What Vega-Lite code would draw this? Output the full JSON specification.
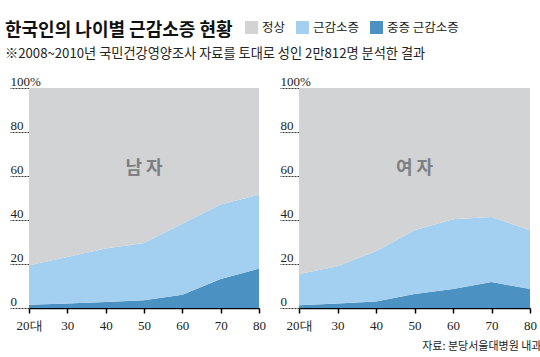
{
  "$schema": "https://vega.github.io/schema/vega-lite/v6.json",
  "padding": {"left": 5, "top": 21, "right": 4, "bottom": 4},
  "bounds": "flush",
  "spacing": 40,
  "background": "white",
  "datasets": {
    "rows": [
      {"g": "남자", "age": 20, "c": "중증 근감소증", "v": 1.5},
      {"g": "남자", "age": 20, "c": "근감소증", "v": 17.9},
      {"g": "남자", "age": 20, "c": "정상", "v": 80.6},
      {"g": "남자", "age": 30, "c": "중증 근감소증", "v": 2.0},
      {"g": "남자", "age": 30, "c": "근감소증", "v": 21.2},
      {"g": "남자", "age": 30, "c": "정상", "v": 76.8},
      {"g": "남자", "age": 40, "c": "중증 근감소증", "v": 2.7},
      {"g": "남자", "age": 40, "c": "근감소증", "v": 24.3},
      {"g": "남자", "age": 40, "c": "정상", "v": 73.0},
      {"g": "남자", "age": 50, "c": "중증 근감소증", "v": 3.5},
      {"g": "남자", "age": 50, "c": "근감소증", "v": 26.0},
      {"g": "남자", "age": 50, "c": "정상", "v": 70.5},
      {"g": "남자", "age": 60, "c": "중증 근감소증", "v": 6.0},
      {"g": "남자", "age": 60, "c": "근감소증", "v": 32.3},
      {"g": "남자", "age": 60, "c": "정상", "v": 61.7},
      {"g": "남자", "age": 70, "c": "중증 근감소증", "v": 13.2},
      {"g": "남자", "age": 70, "c": "근감소증", "v": 33.8},
      {"g": "남자", "age": 70, "c": "정상", "v": 53.0},
      {"g": "남자", "age": 80, "c": "중증 근감소증", "v": 17.9},
      {"g": "남자", "age": 80, "c": "근감소증", "v": 33.6},
      {"g": "남자", "age": 80, "c": "정상", "v": 48.5},
      {"g": "여자", "age": 20, "c": "중증 근감소증", "v": 1.2},
      {"g": "여자", "age": 20, "c": "근감소증", "v": 14.3},
      {"g": "여자", "age": 20, "c": "정상", "v": 84.5},
      {"g": "여자", "age": 30, "c": "중증 근감소증", "v": 2.0},
      {"g": "여자", "age": 30, "c": "근감소증", "v": 17.0},
      {"g": "여자", "age": 30, "c": "정상", "v": 81.0},
      {"g": "여자", "age": 40, "c": "중증 근감소증", "v": 2.9},
      {"g": "여자", "age": 40, "c": "근감소증", "v": 22.9},
      {"g": "여자", "age": 40, "c": "정상", "v": 74.2},
      {"g": "여자", "age": 50, "c": "중증 근감소증", "v": 6.4},
      {"g": "여자", "age": 50, "c": "근감소증", "v": 28.9},
      {"g": "여자", "age": 50, "c": "정상", "v": 64.7},
      {"g": "여자", "age": 60, "c": "중증 근감소증", "v": 8.6},
      {"g": "여자", "age": 60, "c": "근감소증", "v": 31.7},
      {"g": "여자", "age": 60, "c": "정상", "v": 59.7},
      {"g": "여자", "age": 70, "c": "중증 근감소증", "v": 11.8},
      {"g": "여자", "age": 70, "c": "근감소증", "v": 29.6},
      {"g": "여자", "age": 70, "c": "정상", "v": 58.6},
      {"g": "여자", "age": 80, "c": "중증 근감소증", "v": 8.6},
      {"g": "여자", "age": 80, "c": "근감소증", "v": 26.7},
      {"g": "여자", "age": 80, "c": "정상", "v": 64.7}
    ],
    "labels": [
      {"g": "남자", "label": "남 자", "x": 50, "y": 63},
      {"g": "여자", "label": "여 자", "x": 50, "y": 63}
    ]
  },
  "resolve": {"scale": {"color": "shared"}, "legend": {"color": "shared"}},
  "hconcat": [
    {
      "width": 230,
      "height": 220,
      "title": {
        "text": "한국인의 나이별 근감소증 현황",
        "subtitle": "※2008~2010년 국민건강영양조사 자료를 토대로 성인 2만812명 분석한 결과",
        "anchor": "start",
        "frame": "group",
        "orient": "top",
        "dx": -24,
        "offset": 15,
        "font": "Noto Sans CJK KR",
        "fontSize": 18,
        "fontWeight": "bold",
        "color": "#111111",
        "subtitleFont": "Noto Sans CJK KR",
        "subtitleFontSize": 13.2,
        "subtitleColor": "#222222",
        "subtitlePadding": 8
      },
      "encoding": {
        "x": {"type": "quantitative", "scale": {"domain": [20, 80], "nice": false},
          "axis": {"title": null, "values": [20, 30, 40, 50, 60, 70, 80], "labelExpr": "datum.value == 20 ? '20대' : datum.label",
            "grid": false, "labelFlush": false, "labelOverlap": false, "domainColor": "#000000", "domainWidth": 1.5,
            "tickColor": "#000000", "tickSize": 5, "tickWidth": 1.5, "labelPadding": 6,
            "labelFont": "Liberation Sans Narrow", "labelFontSize": 13, "labelColor": "#222222"}},
        "y": {"type": "quantitative", "scale": {"domain": [0, 100], "nice": false},
          "axis": {"title": null, "values": [0, 20, 40, 60, 80, 100], "labelExpr": "datum.value == 100 ? '100%' : datum.label",
            "grid": false, "domain": false, "tickSize": 19, "tickDash": [2, 1], "tickColor": "#333333", "tickWidth": 1,
            "labelAlign": "left", "labelBaseline": "bottom", "labelPadding": 0, "labelDy": -1, "labelOverlap": false,
            "labelFont": "Liberation Sans Narrow", "labelFontSize": 13, "labelColor": "#222222"}}
      },
      "layer": [
        {
          "data": {"name": "rows"},
          "transform": [
            {"filter": "datum.g == '남자'"},
            {"calculate": "indexof(['중증 근감소증','근감소증','정상'], datum.c)", "as": "ord"}
          ],
          "mark": {"type": "area", "opacity": 1, "interpolate": "linear"},
          "encoding": {
            "x": {"field": "age", "type": "quantitative"},
            "y": {"field": "v", "type": "quantitative", "stack": "zero"},
            "color": {"field": "c", "type": "nominal",
              "scale": {"domain": ["정상", "근감소증", "중증 근감소증"], "range": ["#d1d3d4", "#a3cff0", "#4b92c3"]},
              "legend": {"title": null, "orient": "none", "legendX": 216, "legendY": -67, "direction": "horizontal",
                "symbolType": "square", "symbolSize": 169, "symbolStrokeWidth": 0, "symbolOpacity": 1,
                "labelFont": "Noto Sans CJK KR", "labelFontSize": 12.5, "labelColor": "#222222", "labelOffset": 4, "columnPadding": 10}},
            "order": {"field": "ord", "type": "quantitative"}
          }
        },
        {
          "data": {"name": "labels"},
          "transform": [{"filter": "datum.g == '남자'"}],
          "mark": {"type": "text", "font": "Noto Sans CJK KR", "fontSize": 18, "fontWeight": "bold", "color": "#7d7f82"},
          "encoding": {
            "x": {"field": "x", "type": "quantitative"},
            "y": {"field": "y", "type": "quantitative"},
            "text": {"field": "label"}
          }
        }
      ]
    },
    {
      "width": 231,
      "height": 220,
      "title": {"text": "자료: 분당서울대병원 내과", "orient": "bottom", "anchor": "end", "offset": 9, "dx": 5,
        "font": "Noto Sans CJK KR", "fontSize": 11, "fontWeight": "normal", "color": "#222222"},
      "encoding": {
        "x": {"type": "quantitative", "scale": {"domain": [20, 80], "nice": false},
          "axis": {"title": null, "values": [20, 30, 40, 50, 60, 70, 80], "labelExpr": "datum.value == 20 ? '20대' : datum.label",
            "grid": false, "labelFlush": false, "labelOverlap": false, "domainColor": "#000000", "domainWidth": 1.5,
            "tickColor": "#000000", "tickSize": 5, "tickWidth": 1.5, "labelPadding": 6,
            "labelFont": "Liberation Sans Narrow", "labelFontSize": 13, "labelColor": "#222222"}},
        "y": {"type": "quantitative", "scale": {"domain": [0, 100], "nice": false},
          "axis": {"title": null, "values": [0, 20, 40, 60, 80, 100], "labelExpr": "datum.value == 100 ? '100%' : datum.label",
            "grid": false, "domain": false, "tickSize": 19, "tickDash": [2, 1], "tickColor": "#333333", "tickWidth": 1,
            "labelAlign": "left", "labelBaseline": "bottom", "labelPadding": 0, "labelDy": -1, "labelOverlap": false,
            "labelFont": "Liberation Sans Narrow", "labelFontSize": 13, "labelColor": "#222222"}}
      },
      "layer": [
        {
          "data": {"name": "rows"},
          "transform": [
            {"filter": "datum.g == '여자'"},
            {"calculate": "indexof(['중증 근감소증','근감소증','정상'], datum.c)", "as": "ord"}
          ],
          "mark": {"type": "area", "opacity": 1, "interpolate": "linear"},
          "encoding": {
            "x": {"field": "age", "type": "quantitative"},
            "y": {"field": "v", "type": "quantitative", "stack": "zero"},
            "color": {"field": "c", "type": "nominal",
              "scale": {"domain": ["정상", "근감소증", "중증 근감소증"], "range": ["#d1d3d4", "#a3cff0", "#4b92c3"]}},
            "order": {"field": "ord", "type": "quantitative"}
          }
        },
        {
          "data": {"name": "labels"},
          "transform": [{"filter": "datum.g == '여자'"}],
          "mark": {"type": "text", "font": "Noto Sans CJK KR", "fontSize": 18, "fontWeight": "bold", "color": "#7d7f82"},
          "encoding": {
            "x": {"field": "x", "type": "quantitative"},
            "y": {"field": "y", "type": "quantitative"},
            "text": {"field": "label"}
          }
        }
      ]
    }
  ],
  "config": {
    "font": "Noto Sans CJK KR",
    "view": {"stroke": null}
  }
}
